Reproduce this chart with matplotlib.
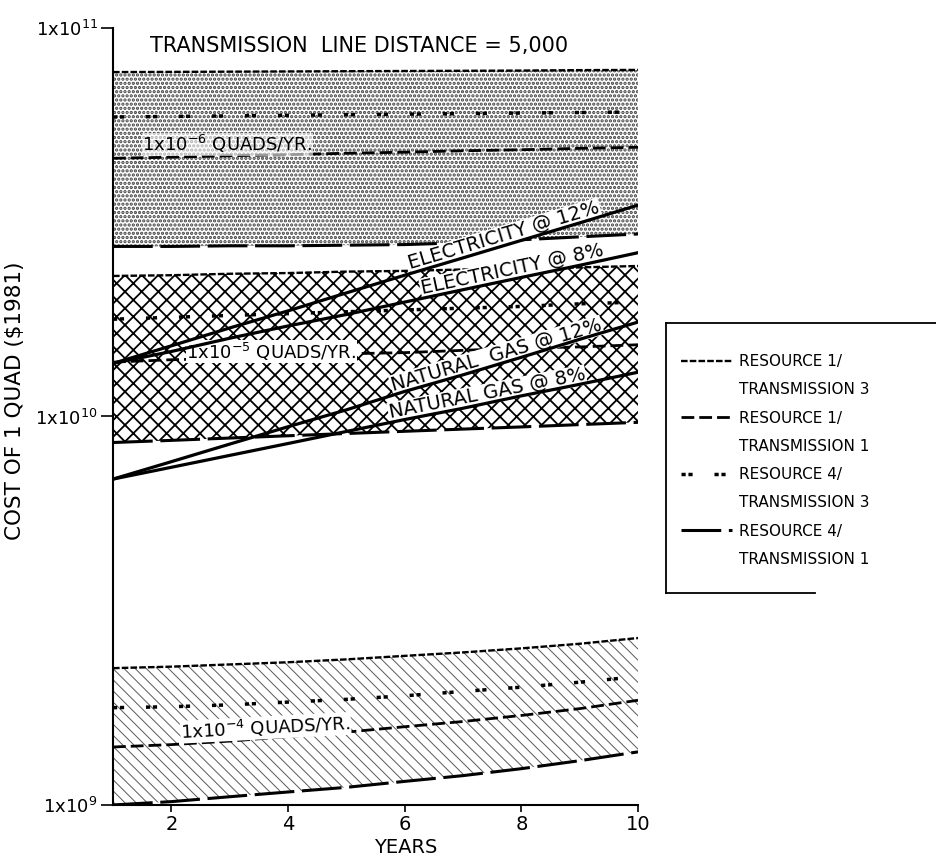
import numpy as np
import matplotlib.pyplot as plt
from matplotlib.lines import Line2D
from matplotlib.ticker import NullLocator
from matplotlib.transforms import offset_copy

plt.rcParams['font.family'] = ['DejaVu Sans']

years = [1, 2, 3, 4, 5, 6, 7, 8, 9, 10]

# 1x10^-6 quads/yr band ($)
top_r1t3 = [7.70e10, 7.71e10, 7.72e10, 7.73e10, 7.74e10, 7.75e10, 7.76e10, 7.77e10, 7.79e10, 7.80e10]
top_r4t3 = [5.90e10, 5.92e10, 5.94e10, 5.96e10, 5.98e10, 6.00e10, 6.02e10, 6.04e10, 6.06e10, 6.08e10]
top_r1t1 = [4.62e10, 4.65e10, 4.69e10, 4.72e10, 4.76e10, 4.79e10, 4.83e10, 4.86e10, 4.90e10, 4.93e10]
top_r4t1 = [2.74e10, 2.74e10, 2.75e10, 2.75e10, 2.76e10, 2.77e10, 2.80e10, 2.85e10, 2.90e10, 2.95e10]

# 1x10^-5 quads/yr band
mid_r1t3 = [2.30e10, 2.31e10, 2.33e10, 2.34e10, 2.36e10, 2.37e10, 2.39e10, 2.40e10, 2.42e10, 2.44e10]
mid_r4t3 = [1.78e10, 1.80e10, 1.82e10, 1.84e10, 1.86e10, 1.88e10, 1.90e10, 1.92e10, 1.95e10, 1.97e10]
mid_r1t1 = [1.38e10, 1.40e10, 1.41e10, 1.43e10, 1.45e10, 1.46e10, 1.48e10, 1.50e10, 1.51e10, 1.53e10]
mid_r4t1 = [8.57e9, 8.68e9, 8.80e9, 8.92e9, 9.04e9, 9.16e9, 9.28e9, 9.40e9, 9.53e9, 9.66e9]

# 1x10^-4 quads/yr band
bot_r1t3 = [2.25e9, 2.27e9, 2.30e9, 2.33e9, 2.37e9, 2.42e9, 2.47e9, 2.53e9, 2.60e9, 2.69e9]
bot_r4t3 = [1.78e9, 1.79e9, 1.81e9, 1.84e9, 1.87e9, 1.91e9, 1.96e9, 2.01e9, 2.07e9, 2.14e9]
bot_r1t1 = [1.41e9, 1.43e9, 1.46e9, 1.50e9, 1.54e9, 1.59e9, 1.64e9, 1.70e9, 1.77e9, 1.86e9]
bot_r4t1 = [1.00e9, 1.02e9, 1.05e9, 1.08e9, 1.11e9, 1.15e9, 1.19e9, 1.24e9, 1.30e9, 1.37e9]

# energy cost lines
elec_12 = [1.37e10, 1.52e10, 1.69e10, 1.87e10, 2.08e10, 2.31e10, 2.56e10, 2.84e10, 3.15e10, 3.50e10]
elec_8 = [1.37e10, 1.47e10, 1.59e10, 1.71e10, 1.83e10, 1.97e10, 2.12e10, 2.28e10, 2.45e10, 2.64e10]
gas_12 = [6.90e9, 7.65e9, 8.49e9, 9.41e9, 1.04e10, 1.16e10, 1.28e10, 1.42e10, 1.58e10, 1.75e10]
gas_8 = [6.90e9, 7.40e9, 7.94e9, 8.52e9, 9.15e9, 9.82e9, 1.05e10, 1.13e10, 1.21e10, 1.30e10]

legend_labels = ['RESOURCE 1/', 'TRANSMISSION 3', 'RESOURCE 1/', 'TRANSMISSION 1',
                 'RESOURCE 4/', 'TRANSMISSION 3', 'RESOURCE 4/', 'TRANSMISSION 1']

# line styles
st_r1t3 = dict(color='black', lw=1.7, linestyle=(0, (2.8, 0.9)))
st_r1t1 = dict(color='black', lw=2.0, linestyle=(0, (4.6, 1.8)))
st_r4t3 = dict(color='black', lw=2.5, linestyle=(0, (1.2, 0.8, 1.2, 6.3)))
st_r4t1 = dict(color='black', lw=2.2, linestyle=(0, (13, 2.5)))

fig = plt.figure(figsize=(9.37, 8.59), dpi=100)
ax = fig.add_axes([0.1206, 0.0629, 0.5603, 0.9045])
ax.set_yscale('log')
ax.set_xlim(1, 10)
ax.set_ylim(1e9, 1e11)

# shaded bands
plt.rcParams['hatch.linewidth'] = 1.6
ax.fill_between(years, top_r4t1, top_r1t3, facecolor='white', edgecolor='0.25',
                hatch='....', lw=0, zorder=1)
plt.rcParams['hatch.linewidth'] = 1.3
ax.fill_between(years, mid_r4t1, mid_r1t3, facecolor='white', edgecolor='black',
                hatch='xx', lw=0, zorder=1)
plt.rcParams['hatch.linewidth'] = 0.7
ax.fill_between(years, bot_r4t1, bot_r1t3, facecolor='white', edgecolor='0.35',
                hatch='\\\\\\', lw=0, zorder=1)

handles = []
for r1t3, r4t3, r1t1, r4t1 in [(top_r1t3, top_r4t3, top_r1t1, top_r4t1),
                               (mid_r1t3, mid_r4t3, mid_r1t1, mid_r4t1),
                               (bot_r1t3, bot_r4t3, bot_r1t1, bot_r4t1)]:
    l1, = ax.plot(years, r1t3, zorder=2, **st_r1t3)
    l2, = ax.plot(years, r1t1, zorder=2, **st_r1t1)
    l3, = ax.plot(years, r4t3, zorder=2, **st_r4t3)
    l4, = ax.plot(years, r4t1, zorder=2, **st_r4t1)
    if not handles:
        handles = [l1, l2, l3, l4]

for series in [elec_12, elec_8, gas_12, gas_8]:
    ax.plot(years, series, color='black', lw=2.3, zorder=3)


def line_label(ys, x0, text, size=14):
    logy = np.log10(ys)
    y0 = 10 ** np.interp(x0, years, logy)
    y1 = 10 ** np.interp(x0 + 1, years, logy)
    p0 = ax.transData.transform((x0, y0))
    p1 = ax.transData.transform((x0 + 1, y1))
    ang = np.degrees(np.arctan2(p1[1] - p0[1], p1[0] - p0[0]))
    tr = offset_copy(ax.transData, fig=fig, x=0, y=3, units='points')
    ax.text(x0, y0, text, rotation=ang, rotation_mode='anchor', ha='left',
            va='baseline', transform=tr, fontsize=size, zorder=2.5,
            bbox=dict(fc='white', ec='none', pad=0.6))


line_label(elec_12, 6.1, 'ELECTRICITY @ 12%')
line_label(elec_8, 6.3, 'ELECTRICITY @ 8%')
line_label(gas_12, 5.8, 'NATURAL  GAS @ 12%')
line_label(gas_8, 5.75, 'NATURAL GAS @ 8%')

ax.text(1.64, 9.0e10, 'TRANSMISSION  LINE DISTANCE = 5,000', fontsize=15, va='center')
ax.text(1.5, 4.7e10, r'1x10$^{-6}$ QUADS/YR.', fontsize=13, va='bottom', zorder=2.5,
        bbox=dict(fc='white', ec='none', pad=0.3, alpha=0.6))
ax.text(2.25, 1.47e10, r'1x10$^{-5}$ QUADS/YR.', fontsize=13, va='center', zorder=2.5,
        bbox=dict(fc='white', ec='none', pad=0.3))
ax.text(2.15, 1.58e9, r'1x10$^{-4}$ QUADS/YR.', fontsize=13, va='center', rotation=3,
        zorder=2.5, bbox=dict(fc='white', ec='none', pad=0.3))

# axes styling
ax.spines['top'].set_visible(False)
ax.spines['right'].set_visible(False)
ax.spines['left'].set_linewidth(1.5)
ax.spines['bottom'].set_linewidth(1.5)
ax.yaxis.set_minor_locator(NullLocator())
ax.set_yticks([1e9, 1e10, 1e11], [r'1x10$^{9}$', r'1x10$^{10}$', r'1x10$^{11}$'])
ax.set_xticks([2, 4, 6, 8, 10])
ax.tick_params(axis='y', length=9, width=1.2, labelsize=13, pad=2)
ax.tick_params(axis='x', length=5, width=1.2, labelsize=14, pad=2)
ax.set_ylabel('COST OF 1 QUAD ($1981)', fontsize=15.5)
ax.yaxis.set_label_coords(-0.168, 0.52)
ax.set_xlabel('YEARS', fontsize=14)
ax.xaxis.set_label_coords(0.558, -0.042)

# legend box
lax = fig.add_axes([666 / 937, (859 - 593) / 859, 1 - 666 / 937 + 0.01, (593 - 323) / 859])
lax.set_xticks([])
lax.set_yticks([])
lax.patch.set_alpha(0)
lax.spines['right'].set_visible(False)
lax.spines['bottom'].set_bounds(0, 0.53)
for s in ['left', 'top', 'bottom']:
    lax.spines[s].set_linewidth(1.3)

blank = Line2D([], [], linestyle='none')
leg_handles = [handles[0], blank, handles[1], blank, handles[2], blank, handles[3], blank]
lax.legend(leg_handles, legend_labels, loc='upper left', bbox_to_anchor=(0.03, 0.908),
           frameon=False, fontsize=11, handlelength=3.4, handletextpad=0.45,
           labelspacing=0.87, borderaxespad=0)

fig.savefig('out.png', dpi=100)
